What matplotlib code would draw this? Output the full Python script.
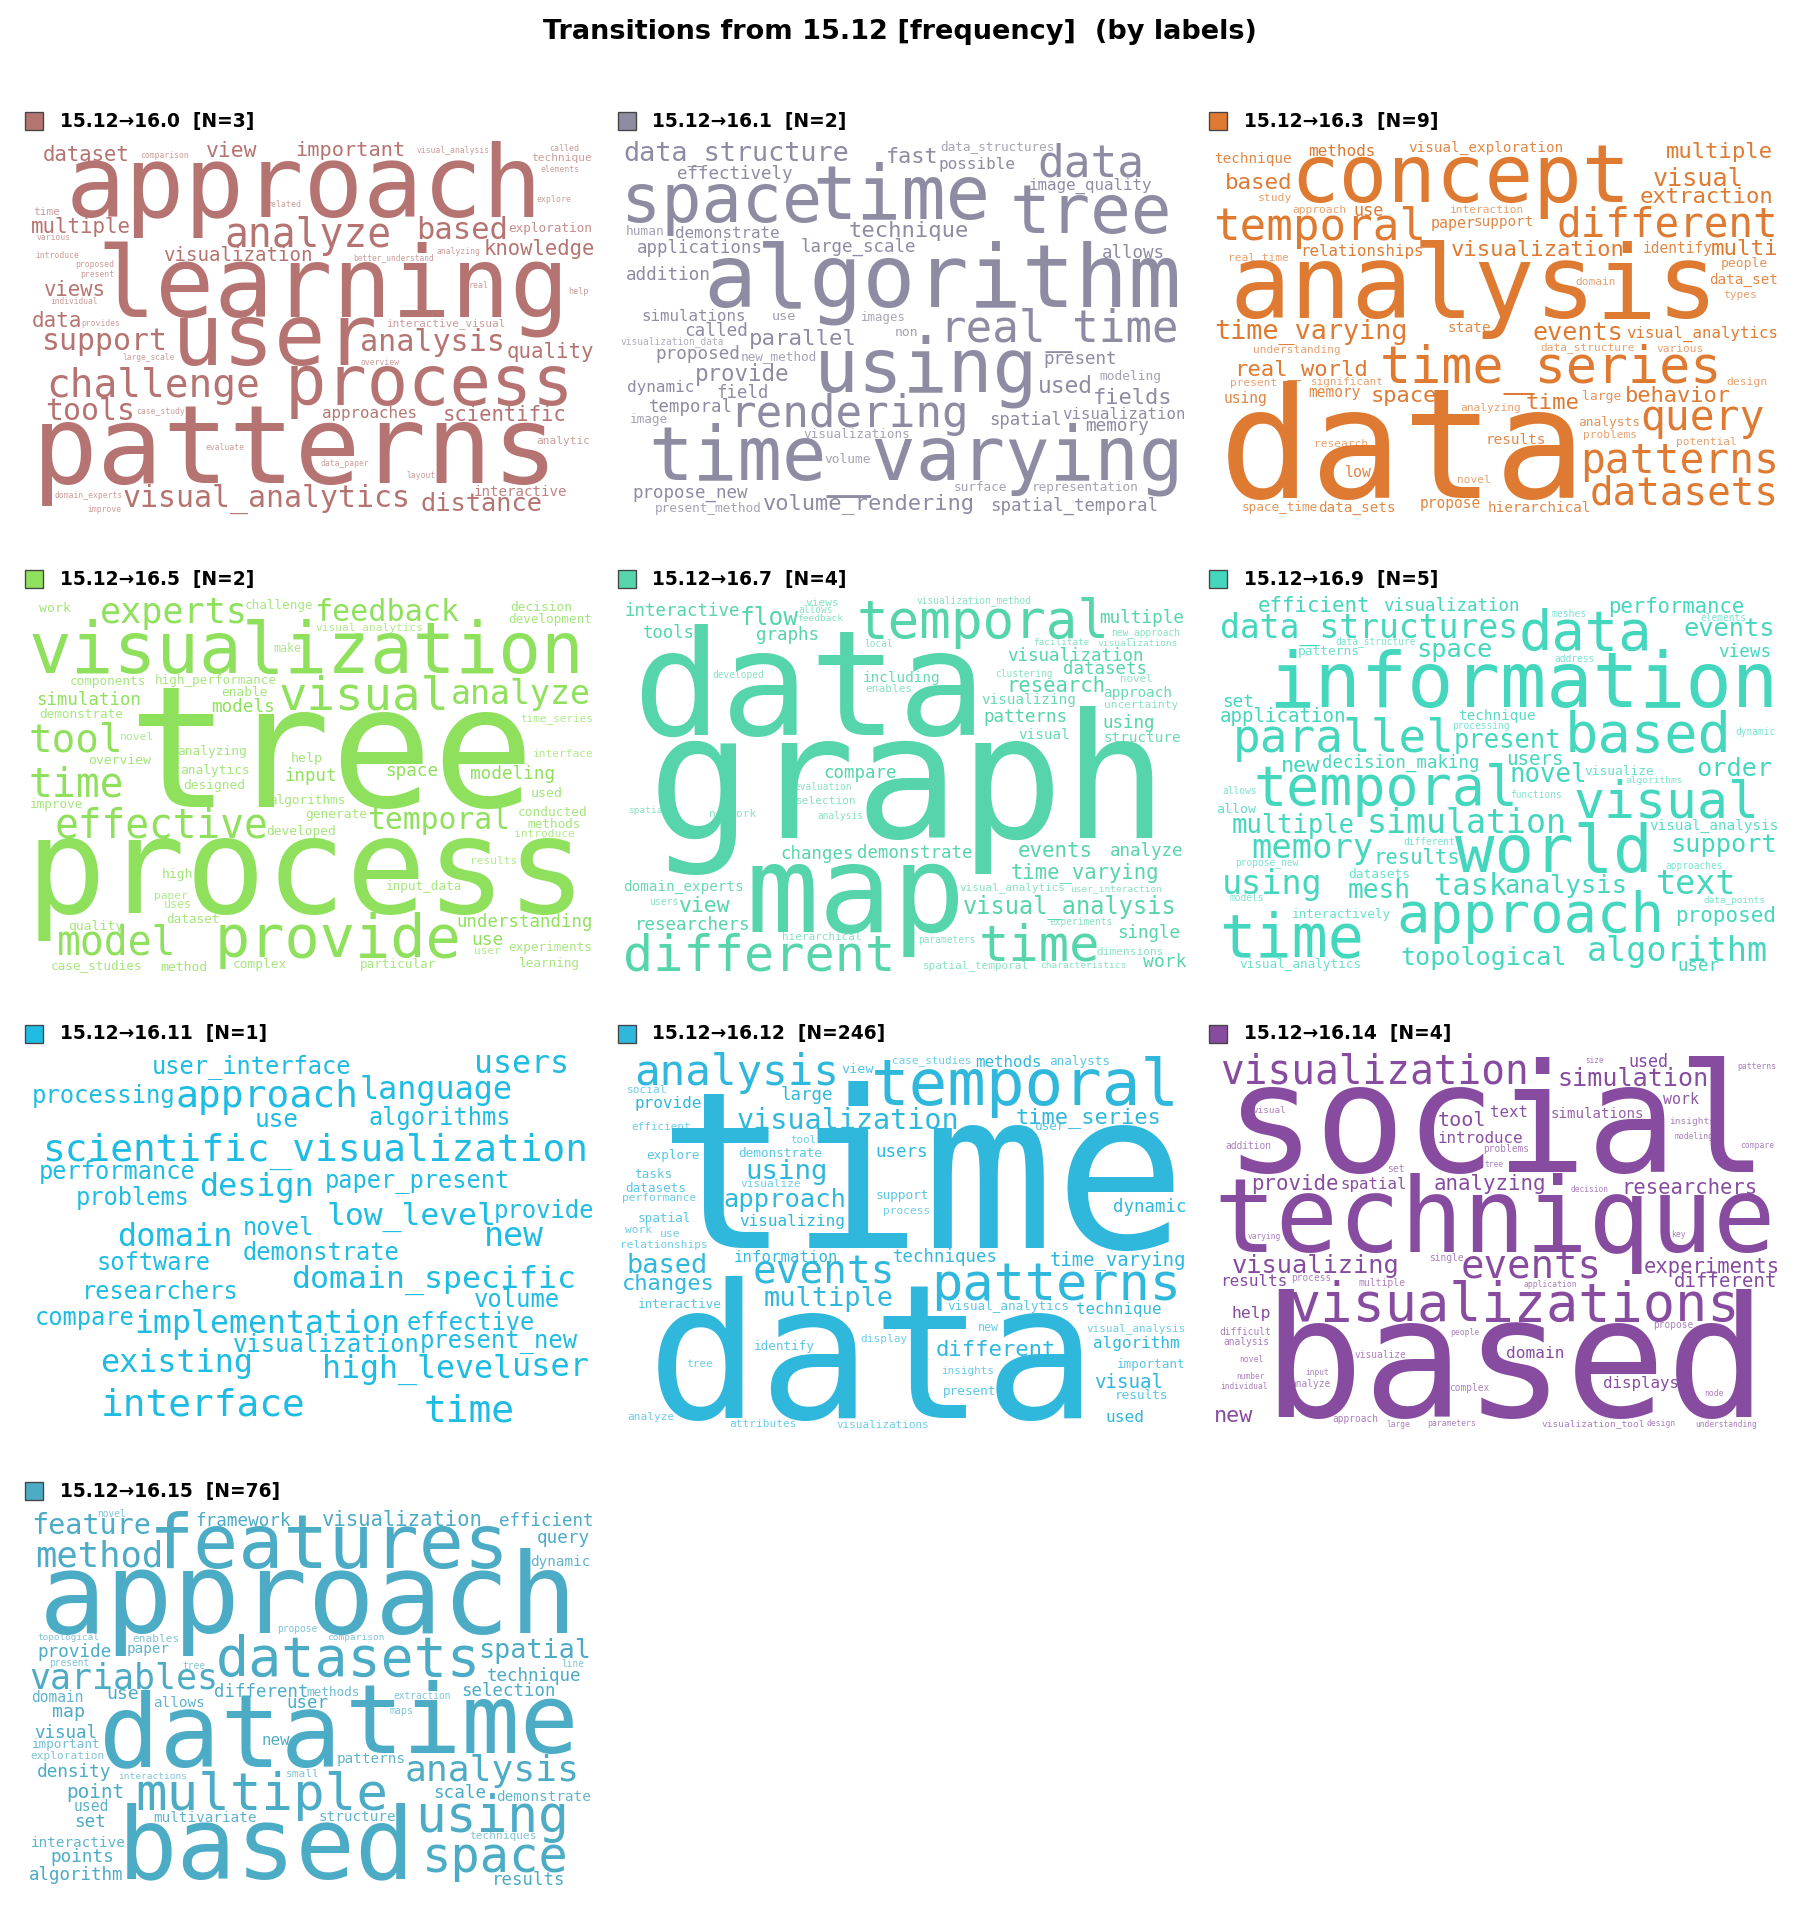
import matplotlib
matplotlib.use("Agg")
import matplotlib.pyplot as plt
from matplotlib.patches import Rectangle

###################### data ###########################
panel_labels = ["16.0", "16.1", "16.3", "16.5", "16.7", "16.9", "16.11", "16.12", "16.14", "16.15"]
panel_counts = [3, 2, 9, 2, 4, 5, 1, 246, 4, 76]
panel_colors = ["#B57472", "#8E8CA3", "#DE7A31", "#8FE05C", "#56D4AC", "#44D7BE", "#1EBCE2", "#30B8DC", "#874CA0", "#4CABC5"]

words_0 = ["approach", "learning", "user", "patterns", "process", "challenge", "analyze", "based", "dataset", "view", "important", "visual_analysis", "comparison", "called", "technique", "elements", "explore", "related", "time", "multiple", "various", "exploration", "knowledge", "visualization", "introduce", "proposed", "present", "better_understand", "analyzing", "views", "individual", "real", "help", "data", "provides", "interactive_visual", "support", "analysis", "quality", "large_scale", "overview", "tools", "case_study", "approaches", "scientific", "analytic", "evaluate", "data_paper", "layout", "domain_experts", "interactive", "visual_analytics", "distance", "improve"]
words_1 = ["data_structure", "fast", "data_structures", "possible", "data", "effectively", "image_quality", "space", "time", "tree", "human", "demonstrate", "technique", "applications", "large_scale", "allows", "addition", "algorithm", "simulations", "use", "images", "called", "parallel", "non", "real_time", "visualization_data", "proposed", "new_method", "using", "present", "modeling", "provide", "dynamic", "field", "used", "fields", "temporal", "rendering", "visualization", "spatial", "image", "memory", "visualizations", "time_varying", "volume", "surface", "representation", "propose_new", "present_method", "volume_rendering", "spatial_temporal"]
words_2 = ["technique", "methods", "visual_exploration", "multiple", "concept", "based", "visual", "extraction", "study", "approach", "use", "interaction", "temporal", "paper", "support", "different", "relationships", "visualization", "identify", "multi", "real_time", "analysis", "people", "data_set", "domain", "types", "time_varying", "state", "events", "visual_analytics", "understanding", "data_structure", "various", "real_world", "time_series", "present", "significant", "design", "using", "memory", "space", "large", "behavior", "time", "analyzing", "analysts", "query", "problems", "research", "results", "potential", "patterns", "low", "novel", "data", "datasets", "propose", "space_time", "data_sets", "hierarchical"]
words_3 = ["work", "experts", "challenge", "feedback", "decision", "development", "visual_analytics", "make", "visualization", "components", "high_performance", "enable", "simulation", "models", "visual", "analyze", "demonstrate", "time_series", "tool", "novel", "tree", "analyzing", "overview", "help", "interface", "analytics", "space", "input", "modeling", "designed", "time", "used", "improve", "algorithms", "generate", "effective", "temporal", "conducted", "methods", "developed", "introduce", "process", "results", "high", "input_data", "paper", "uses", "dataset", "understanding", "quality", "model", "provide", "use", "user", "experiments", "learning", "case_studies", "method", "complex", "particular"]
words_4 = ["interactive", "flow", "views", "allows", "feedback", "temporal", "visualization_method", "multiple", "tools", "graphs", "new_approach", "local", "facilitate", "visualizations", "data", "visualization", "datasets", "developed", "clustering", "novel", "including", "research", "enables", "approach", "visualizing", "uncertainty", "patterns", "using", "visual", "structure", "graph", "compare", "evaluation", "selection", "spatial", "network", "analysis", "changes", "demonstrate", "events", "analyze", "time_varying", "domain_experts", "visual_analytics", "user_interaction", "users", "view", "visual_analysis", "map", "researchers", "experiments", "hierarchical", "parameters", "single", "time", "dimensions", "work", "different", "spatial_temporal", "characteristics"]
words_5 = ["efficient", "visualization", "performance", "meshes", "elements", "data", "data_structures", "events", "data_structure", "space", "patterns", "views", "address", "information", "set", "application", "technique", "processing", "dynamic", "parallel", "present", "based", "users", "decision_making", "new", "order", "novel", "visualize", "algorithms", "temporal", "allows", "functions", "allow", "visual", "simulation", "multiple", "visual_analysis", "different", "support", "memory", "world", "results", "propose_new", "approaches", "datasets", "using", "task", "analysis", "text", "mesh", "models", "data_points", "approach", "interactively", "proposed", "time", "algorithm", "topological", "visual_analytics", "user"]
words_6 = ["user_interface", "users", "language", "processing", "approach", "algorithms", "use", "scientific_visualization", "performance", "paper_present", "design", "problems", "low_level", "provide", "novel", "domain", "new", "demonstrate", "software", "domain_specific", "researchers", "volume", "compare", "implementation", "effective", "visualization", "present_new", "existing", "high_level", "user", "interface", "time"]
words_7 = ["analysis", "case_studies", "methods", "analysts", "view", "temporal", "social", "large", "provide", "time_series", "visualization", "user", "efficient", "tool", "time", "demonstrate", "users", "explore", "tasks", "using", "visualize", "datasets", "support", "performance", "approach", "process", "dynamic", "spatial", "visualizing", "work", "use", "relationships", "information", "techniques", "time_varying", "based", "events", "changes", "patterns", "multiple", "interactive", "visual_analytics", "technique", "new", "visual_analysis", "display", "identify", "different", "algorithm", "tree", "important", "insights", "visual", "present", "results", "data", "used", "analyze", "attributes", "visualizations"]
words_8 = ["visualization", "size", "used", "patterns", "simulation", "social", "work", "visual", "text", "simulations", "tool", "insights", "introduce", "modeling", "addition", "compare", "problems", "tree", "set", "provide", "spatial", "analyzing", "decision", "researchers", "technique", "varying", "key", "single", "visualizing", "events", "experiments", "results", "process", "multiple", "application", "different", "visualizations", "help", "propose", "difficult", "people", "analysis", "visualize", "domain", "novel", "input", "number", "based", "displays", "individual", "analyze", "complex", "node", "new", "approach", "large", "parameters", "visualization_tool", "design", "understanding"]
words_9 = ["novel", "feature", "features", "framework", "visualization", "efficient", "query", "method", "dynamic", "approach", "propose", "topological", "enables", "comparison", "provide", "paper", "spatial", "datasets", "present", "tree", "line", "variables", "technique", "different", "methods", "selection", "use", "domain", "allows", "user", "extraction", "map", "maps", "data", "time", "visual", "new", "important", "exploration", "patterns", "analysis", "density", "interactions", "small", "multiple", "point", "scale", "demonstrate", "used", "using", "set", "multivariate", "structure", "techniques", "interactive", "based", "points", "space", "algorithm", "results"]

###################### word layout ################################################
# (left, right, baseline) of each word, same order as its word list, in the panel's own axes units
layout_0 = [(185,1375,380),(265,1445,680),(455,955,825),(100,1415,1180),(740,1460,945),(125,660,920),(580,995,470),(1070,1295,448),(112,328,212),(530,655,200),(758,1033,198),(1067,1248,190),(360,482,204),(1405,1480,182),(1360,1510,213),(1384,1480,246),(1374,1460,337),(682,768,351),(88,153,376),(82,332,428),(94,178,449),(1302,1515,427),(1240,1518,495),(420,798,513),(92,200,503),(193,290,532),(207,292,560),(905,1110,509),(1118,1226,492),(115,268,618),(131,250,641),(1200,1248,593),(1456,1506,611),(85,207,712),(210,306,707),(990,1293,707),(112,425,780),(925,1285,783),(1300,1518,803),(315,447,810),(924,1022,826),(122,343,990),(351,471,971),(826,1065,985),(1135,1445,993),(1374,1508,1063),(528,624,1080),(820,940,1128),(1041,1112,1163),(140,309,1225),(1215,1450,1217),(320,1048,1250),(1080,1385,1262),(225,309,1267)]
layout_1 = [(65,645,213),(748,878,220),(888,1180,180),(882,1078,237),(1145,1410,260),(203,498,268),(1118,1437,300),(68,570,395),(565,1005,388),(1078,1480,430),(70,167,435),(197,465,444),(650,955,440),(100,422,488),(525,820,485),(1308,1467,503),(70,285,571),(285,1500,650),(110,378,693),(448,507,690),(680,793,693),(223,384,737),(390,663,765),(769,826,738),(890,1497,755),(55,320,761),(146,361,806),(367,563,811),(570,1130,905),(1157,1343,822),(1300,1458,871),(252,492,873),(72,243,906),(306,437,924),(1142,1278,908),(1285,1485,943),(131,343,966),(345,955,1010),(1205,1522,987),(1016,1200,1004),(80,176,998),(1265,1425,1022),(532,806,1043),(140,1510,1170),(585,702,1118),(922,1058,1202),(1125,1400,1204),(87,384,1224),(146,422,1265),(428,973,1258),(1018,1447,1263)]
layout_2 = [(65,260,218),(305,473,198),(560,952,187),(1222,1490,205),(272,1118,335),(92,258,296),(1188,1413,287),(1155,1490,340),(176,260,333),(263,398,368),(422,494,378),(668,853,370),(67,597,450),(617,727,414),(727,876,407),(945,1500,440),(285,597,498),(670,1108,497),(1160,1335,488),(1337,1503,495),(100,252,510),(120,1340,685),(1360,1477,530),(1330,1502,583),(987,1087,585),(1367,1450,625),(67,555,748),(660,767,726),(880,1105,750),(1118,1503,743),(164,383,788),(899,1136,780),(1195,1312,785),(118,453,856),(495,1355,878),(103,219,888),(312,496,885),(1373,1475,885),(88,196,938),(306,436,922),(467,630,935),(1004,1100,930),(1115,1380,937),(862,993,958),(694,846,963),(996,1151,1007),(1160,1465,1020),(1006,1140,1043),(320,456,1071),(757,907,1063),(1245,1396,1066),(1005,1500,1150),(400,464,1162),(684,766,1180),(100,995,1225),(1028,1500,1243),(589,741,1255),(135,328,1263),(331,525,1265),(764,1023,1265)]
layout_3 = [(103,181,187),(262,630,220),(628,800,177),(808,1168,212),(1307,1462,183),(1302,1513,220),(810,1081,240),(701,769,305),(85,1485,370),(180,371,406),(399,708,403),(569,684,438),(96,359,465),(542,700,485),(720,1142,480),(1160,1508,462),(102,314,503),(1332,1516,513),(80,310,605),(309,393,570),(355,1345,770),(455,630,616),(227,384,642),(747,825,635),(1366,1516,620),(464,638,672),(989,1119,678),(731,859,692),(1205,1418,688),(472,627,718),(80,312,740),(1359,1437,740),(79,213,775),(690,882,762),(784,938,805),(147,683,862),(945,1303,838),(1327,1501,797),(1350,1484,833),(683,857,856),(1317,1469,861),(90,1485,1088),(1205,1322,941),(416,493,985),(990,1182,1020),(396,479,1048),(422,490,1073),(428,562,1120),(1170,1513,1132),(176,312,1140),(153,447,1213),(560,1172,1220),(1208,1285,1185),(1214,1279,1212),(1302,1513,1202),(1330,1483,1250),(133,364,1257),(413,530,1263),(598,733,1255),(923,1115,1255)]
layout_4 = [(67,360,197),(367,513,225),(537,621,167),(518,605,188),(515,631,212),(678,1320,265),(825,1120,160),(1302,1518,220),(114,244,265),(410,569,270),(1330,1506,255),(688,760,290),(1127,1272,285),(1296,1501,287),(110,985,555),(1062,1412,333),(1207,1420,372),(294,426,384),(1028,1174,381),(1355,1437,395),(686,884,396),(1060,1311,425),(693,811,425),(1311,1486,441),(995,1237,462),(1313,1501,474),(1000,1214,515),(1309,1441,533),(1090,1220,566),(1312,1508,576),(155,1455,865),(585,772,683),(508,655,720),(511,665,761),(75,176,788),(286,405,802),(567,684,808),(472,657,928),(672,966,925),(1090,1278,922),(1328,1515,918),(1072,1451,985),(63,371,1023),(937,1210,1020),(1225,1460,1023),(129,202,1065),(210,337,1087),(948,1496,1088),(400,935,1145),(95,390,1140),(1170,1331,1124),(476,680,1170),(830,977,1178),(1349,1508,1163),(993,1293,1230),(1293,1463,1214),(1415,1522,1250),(70,762,1260),(842,1115,1255),(1146,1365,1254)]
layout_5 = [(178,459,187),(498,843,183),(1074,1418,188),(925,1012,200),(1306,1421,212),(850,1175,300),(82,835,262),(1267,1494,258),(374,577,282),(583,771,320),(277,431,315),(1355,1485,320),(933,1034,336),(215,1495,470),(85,161,470),(79,397,515),(687,881,511),(673,819,538),(1396,1496,554),(118,670,607),(678,945,595),(968,1378,605),(811,952,645),(340,736,652),(237,331,667),(1298,1485,677),(822,1012,696),(1011,1185,675),(1115,1258,700),(172,832,765),(84,170,732),(820,949,744),(69,167,790),(990,1450,802),(458,960,850),(110,418,848),(1178,1503,839),(548,678,885),(1232,1496,907),(162,463,925),(690,1175,965),(472,687,943),(117,278,944),(1217,1361,958),(408,562,984),(87,335,1032),(630,808,1035),(808,1114,1030),(1198,1394,1033),(408,562,1045),(103,189,1054),(1314,1471,1060),(537,1205,1145),(264,514,1105),(1245,1496,1117),(85,437,1218),(1022,1474,1232),(542,960,1245),(128,436,1253),(1250,1352,1262)]
layout_6 = [(393,898,188),(1217,1450,188),(925,1306,268),(85,445,278),(455,912,290),(946,1302,345),(655,760,352),(115,1498,452),(103,497,507),(836,1302,535),(516,800,558),(197,483,585),(840,1265,645),(1267,1517,623),(626,802,675),(305,590,707),(1243,1386,708),(626,1021,751),(250,535,780),(750,1467,832),(214,606,867),(1215,1428,892),(92,341,945),(350,1020,968),(1045,1367,960),(600,1070,1025),(1078,1475,1015),(261,642,1087),(828,1305,1103),(1315,1502,1098),(265,777,1215),(1091,1313,1235)]
layout_7 = [(97,618,225),(762,966,160),(978,1147,170),(1170,1325,165),(630,710,188),(715,1500,285),(72,173,250),(472,604,270),(92,263,295),(1085,1458,340),(360,932,358),(1132,1207,360),(83,235,360),(497,562,400),(190,1495,715),(361,576,440),(718,850,440),(122,258,447),(91,186,505),(384,590,507),(367,521,530),(68,223,547),(720,856,567),(60,248,573),(326,637,590),(737,855,612),(1336,1522,605),(100,235,636),(365,635,648),(67,134,668),(158,208,682),(55,277,714),(350,617,757),(764,1030,757),(1172,1522,765),(75,278,790),(404,762,820),(60,295,840),(870,1505,870),(430,760,888),(100,315,894),(905,1217,900),(1241,1459,912),(985,1036,963),(1266,1522,963),(678,797,997),(403,558,1020),(876,1182,1037),(1286,1507,1015),(227,294,1071),(1345,1520,1075),(890,1025,1093),(1288,1462,1135),(894,1030,1154),(1340,1476,1168),(155,1270,1225),(1318,1415,1235),(72,191,1231),(338,508,1250),(616,855,1253)]
layout_8 = [(85,865,222),(1012,1057,158),(1125,1222,172),(1401,1498,178),(945,1325,228),(115,1460,485),(1213,1300,283),(162,246,310),(770,862,320),(925,1160,325),(637,755,347),(1227,1341,342),(635,850,400),(1242,1339,388),(93,209,417),(1409,1493,415),(752,867,427),(755,801,472),(505,547,487),(160,377,540),(388,553,537),(627,908,540),(975,1070,545),(1107,1449,552),(78,1485,725),(149,232,688),(1231,1266,682),(612,698,752),(112,535,790),(700,1050,805),(1163,1504,788),(79,247,827),(261,361,813),(433,550,828),(855,988,832),(1240,1497,830),(262,1400,932),(110,206,923),(1185,1285,955),(76,206,975),(668,741,975),(88,204,1006),(422,552,1045),(811,955,1043),(127,186,1056),(295,353,1094),(120,190,1107),(215,1455,1222),(1058,1249,1135),(78,196,1137),(258,358,1130),(665,765,1144),(1316,1363,1158),(66,160,1235),(367,482,1235),(503,561,1250),(608,728,1249),(900,1160,1248),(1168,1240,1249),(1294,1450,1250)]
layout_9 = [(249,320,142),(86,384,193),(395,1295,295),(503,742,167),(828,1234,167),(1280,1517,167),(1375,1505,218),(95,412,290),(1358,1508,288),(120,1465,490),(711,812,486),(97,254,510),(341,457,515),(838,981,510),(98,283,560),(327,432,550),(1228,1508,565),(562,1222,617),(128,228,587),(468,524,597),(1438,1494,592),(80,552,655),(1248,1485,632),(550,785,680),(787,921,677),(1183,1418,677),(276,354,687),(83,213,697),(395,523,710),(736,838,715),(1007,1151,686),(135,214,742),(998,1056,732),(270,860,890),(900,1470,850),(90,246,803),(672,740,825),(84,255,835),(80,265,866),(864,1036,880),(1042,1478,933),(97,283,920),(303,475,926),(733,815,922),(355,985,1020),(174,317,983),(1110,1240,983),(1271,1508,993),(192,278,1022),(1072,1450,1085),(192,268,1070),(394,655,1057),(817,1011,1054),(1203,1370,1106),(81,318,1130),(320,1050,1225),(133,290,1177),(1088,1448,1205),(78,316,1230),(1260,1442,1245)]

all_words = [words_0, words_1, words_2, words_3, words_4, words_5, words_6, words_7, words_8, words_9]
all_layouts = [layout_0, layout_1, layout_2, layout_3, layout_4, layout_5, layout_6, layout_7, layout_8, layout_9]

###################### figure ###########################
dpi = 120
fig = plt.figure(figsize=(15, 16), dpi=dpi)
W, H = 1800, 1920

# panel boxes in pixels
col_x = [0, 600, 1190]
col_w = [610, 600, 610]
col_swatch = [24.5, 17.5, 19]
row_y = [90, 550, 1010, 1470]
row_title = [121, 579, 1034, 1491]
box_h = 450
units_w, units_h = 1560, 1350

fig.text(0.5, 1 - 32 / H, "Transitions from 15.12 [frequency]  (by labels)",
         ha="center", va="center", fontsize=16.3, fontweight="bold")

for i, (words, layout) in enumerate(zip(all_words, all_layouts)):
    r, c = divmod(i, 3)
    px, py, pw = col_x[c], row_y[r], col_w[c]
    ax = fig.add_axes([px / W, 1 - (py + box_h) / H, pw / W, box_h / H])
    ax.set_xlim(0, units_w)
    ax.set_ylim(units_h, 0)
    ax.axis("off")
    color = panel_colors[i]
    sx = units_w / pw
    sy = units_h / box_h

    # colour swatch + panel title
    title_row = (row_title[r] - py) * sy
    sw = 18
    ax.add_patch(Rectangle((col_swatch[c] * sx, title_row - sw / 2 * sy), sw * sx, sw * sy,
                           facecolor=color, edgecolor="#444444", linewidth=0.8, clip_on=False))
    ax.text((col_swatch[c] + 35) * sx, title_row, f"15.12→{panel_labels[i]}  [N={panel_counts[i]}]",
            ha="left", va="center", fontsize=11.2, fontweight="bold", color="black")

    # the word cloud, font is monospace so width gives the size
    for word, (left, right, base) in zip(words, layout, strict=True):
        size_px = (right - left) / sx / (len(word) * 0.602 - 0.12)
        alpha = min(1.0, max(0.7, size_px / 16))
        ax.text(left - 0.07 * size_px * sx, base, word, family="DejaVu Sans Mono", color=color, alpha=alpha,
                fontsize=size_px * 72 / dpi, ha="left", va="baseline")

fig.savefig("out.png", dpi=dpi, facecolor="white")
